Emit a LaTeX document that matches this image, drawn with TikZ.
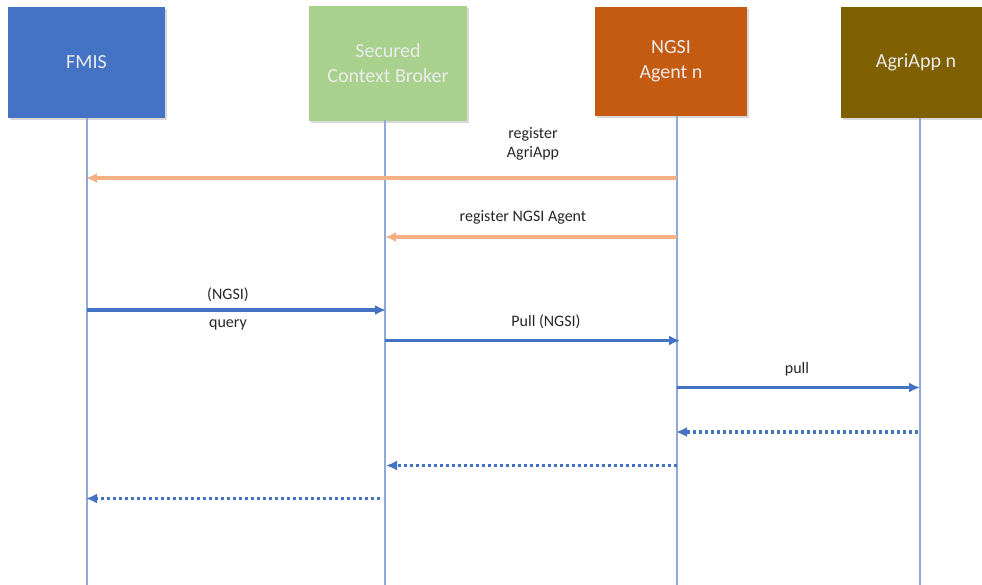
\documentclass[tikz,border=0pt]{standalone}
\usepackage{fontspec}
\setmainfont{Carlito}
\usetikzlibrary{arrows.meta,shadows}
\definecolor{fmis}{HTML}{4472C4}
\definecolor{scb}{HTML}{A9D18E}
\definecolor{ngsi}{HTML}{C55A11}
\definecolor{agri}{HTML}{7F6000}
\definecolor{life}{HTML}{8EAADB}
\definecolor{reg}{HTML}{F4B183}
\definecolor{msg}{HTML}{4472C4}
\begin{document}
\begin{tikzpicture}[x=1pt,y=-1pt,
  actor/.style={text=white!92!black, font=\fontsize{20}{25}\selectfont, align=center, inner sep=0pt,
    drop shadow={shadow xshift=2pt,shadow yshift=-2pt,opacity=0.3}},
  lifeline/.style={draw=life, line width=1.6pt},
  tip/.style={-{Latex[length=11pt,width=10pt]}},
  regarrow/.style={draw=reg, line width=3.2pt, tip},
  callarrow/.style={draw=msg, line width=3.2pt, tip},
  retarrow/.style={draw=msg, line width=3.2pt, dash pattern=on 3pt off 3pt, tip},
  lbl/.style={font=\fontsize{16}{19}\selectfont, text=black!85, align=center, inner sep=0pt}]
\useasboundingbox (0,0) rectangle (982,585);
% actor boxes
\node[actor, fill=fmis, minimum width=157pt, minimum height=111pt] (fmis) at (86.5,62.5) {FMIS};
\node[actor, fill=scb, minimum width=158pt, minimum height=115pt] (scb) at (388,63.5) {Secured\\Context Broker};
\node[actor, fill=ngsi, minimum width=152pt, minimum height=109pt] (ngsi) at (671,61.5) {NGSI\\Agent n};
\node[actor, fill=agri, minimum width=150pt, minimum height=111pt] (agri) at (916,62.5) {AgriApp n};
% lifeline ends
\coordinate (fmisE) at (87,585);
\coordinate (scbE) at (385,585);
\coordinate (ngsiE) at (677,585);
\coordinate (agriE) at (920,585);
\coordinate (fmisT) at (87,118);
\coordinate (scbT) at (385,120);
\coordinate (ngsiT) at (677,116);
\coordinate (agriT) at (920,118);
\draw[lifeline] (fmisT) -- (fmisE);
\draw[lifeline] (scbT) -- (scbE);
\draw[lifeline] (ngsiT) -- (ngsiE);
\draw[lifeline] (agriT) -- (agriE);
% messages
\coordinate (m1s) at (677,178); \coordinate (m1e) at (86,178);
\draw[regarrow] (m1s) -- (m1e);
\node[lbl] (l1) at (533,144) {register\\AgriApp};
\coordinate (m2s) at (677,237); \coordinate (m2e) at (385,237);
\draw[regarrow] (m2s) -- (m2e);
\node[lbl] (l2) at (523,217) {register NGSI Agent};
\coordinate (m3s) at (87,310); \coordinate (m3e) at (386,310);
\draw[callarrow] (m3s) -- (m3e);
\node[lbl] (l3a) at (228,295) {(NGSI)};
\node[lbl] (l3b) at (228,325) {query};
\coordinate (m4s) at (385,340.5); \coordinate (m4e) at (680,340.5);
\draw[callarrow] (m4s) -- (m4e);
\node[lbl] (l4) at (546,322) {Pull (NGSI)};
\coordinate (m5s) at (677,387.5); \coordinate (m5e) at (920,387.5);
\draw[callarrow] (m5s) -- (m5e);
\node[lbl] (l5) at (797,369) {pull};
\coordinate (m6s) at (918,432); \coordinate (m6e) at (676,432);
\draw[retarrow] (m6s) -- (m6e);
\coordinate (m7s) at (677,465.5); \coordinate (m7e) at (386,465.5);
\draw[retarrow] (m7s) -- (m7e);
\coordinate (m8s) at (380,498.5); \coordinate (m8e) at (86,498.5);
\draw[retarrow] (m8s) -- (m8e);
\end{tikzpicture}
\end{document}
